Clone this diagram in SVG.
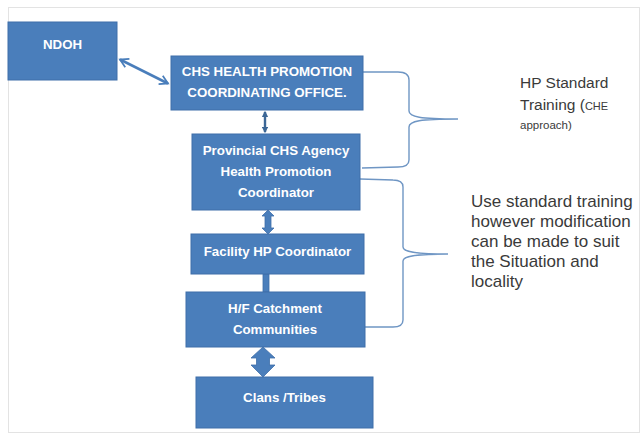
<svg xmlns="http://www.w3.org/2000/svg" width="643" height="434" viewBox="0 0 643 434">
<style>
.box{fill:#4a7ebb;stroke:#3f6fa9;stroke-width:1}
.bt{font-family:"Liberation Sans",Arial,sans-serif;font-weight:bold;font-size:13.3px;fill:#ffffff;text-anchor:middle}
.nt{font-family:"Liberation Sans",Arial,sans-serif;fill:#3a3a3a}
.brace{fill:none;stroke:#6f96c4;stroke-width:1.4}
.blk{fill:#4a7ebb;stroke:#3f6fa9;stroke-width:0.8}
</style>
<defs>
<marker id="ah" viewBox="0 0 10 10" refX="8" refY="5" markerWidth="4.5" markerHeight="4.5" orient="auto-start-reverse" markerUnits="strokeWidth">
<path d="M1,1 L8,5 L1,9" fill="none" stroke="#4a7ebb" stroke-width="1.5"/>
</marker>
<marker id="ah2" viewBox="0 0 10 10" refX="8" refY="5" markerWidth="2.6" markerHeight="2.6" orient="auto-start-reverse" markerUnits="strokeWidth">
<path d="M0,0 L10,5 L0,10 Z" fill="#3c6796"/>
</marker>
</defs>
<rect x="8.5" y="7.5" width="631" height="425" fill="#ffffff" stroke="#e3e3e3" stroke-width="1"/>
<g id="connectors">
<line x1="120" y1="59.5" x2="168" y2="83.5" stroke="#4a7ebb" stroke-width="2.6" marker-start="url(#ah)" marker-end="url(#ah)"/>
<line x1="265" y1="112" x2="265" y2="132" stroke="#3c6796" stroke-width="2.4" marker-start="url(#ah2)" marker-end="url(#ah2)"/>
<path class="blk" d="M268,210 L274,216 L271,216 L271,228 L274,228 L268,234 L262,228 L265,228 L265,216 L262,216 Z"/>
<rect class="blk" x="263" y="274" width="6" height="18"/>
<path class="blk" d="M263,347 L275,358 L269.5,358 L269.5,365 L275,365 L263,377 L251,365 L256.5,365 L256.5,358 L251,358 Z"/>
<path class="brace" d="M363,72 L398,72 Q409,72 409,80 L409,111 C409,117 420,119 458,119 C420,119 409,121 409,127 L409,160 Q409,167 398,167 L362,168"/>
<path class="brace" d="M360,179 L393,180 Q403,180 403,187 L403,247 C403,252 415,254 448,254 C415,254 403,256 403,261 L403,320 Q403,327 393,327 L365,327"/>
</g>
<g id="ndoh">
<rect class="box" x="8" y="22" width="109" height="58"/>
<text class="bt" x="62.5" y="49">NDOH</text>
</g>
<g id="chs">
<rect class="box" x="171" y="56" width="192" height="54"/>
<text class="bt" x="267" y="76">CHS HEALTH PROMOTION</text>
<text class="bt" x="267" y="97">COORDINATING OFFICE.</text>
</g>
<g id="provincial">
<rect class="box" x="192" y="134" width="168" height="76"/>
<text class="bt" x="276" y="155">Provincial CHS Agency</text>
<text class="bt" x="276" y="176">Health Promotion</text>
<text class="bt" x="276" y="197">Coordinator</text>
</g>
<g id="facility">
<rect class="box" x="191" y="234" width="173" height="40"/>
<text class="bt" x="277.5" y="256">Facility HP Coordinator</text>
</g>
<g id="catchment">
<rect class="box" x="186" y="292" width="179" height="55"/>
<text class="bt" x="275" y="313">H/F Catchment</text>
<text class="bt" x="275" y="334">Communities</text>
</g>
<g id="clans">
<rect class="box" x="196" y="377" width="177" height="51"/>
<text class="bt" x="284.5" y="402">Clans /Tribes</text>
</g>
<g id="note-standard">
<text class="nt" x="520" y="88" font-size="15.5">HP Standard</text>
<text class="nt" x="520" y="110" font-size="15.5">Training (<tspan font-size="11">CHE</tspan></text>
<text class="nt" x="520" y="129" font-size="11.5">approach)</text>
</g>
<g id="note-modified">
<text class="nt" x="471" y="207" font-size="17">Use standard training</text>
<text class="nt" x="471" y="227" font-size="17">however modification</text>
<text class="nt" x="471" y="247" font-size="17">can be made to suit</text>
<text class="nt" x="471" y="267" font-size="17">the Situation and</text>
<text class="nt" x="471" y="287" font-size="17">locality</text>
</g>
</svg>
